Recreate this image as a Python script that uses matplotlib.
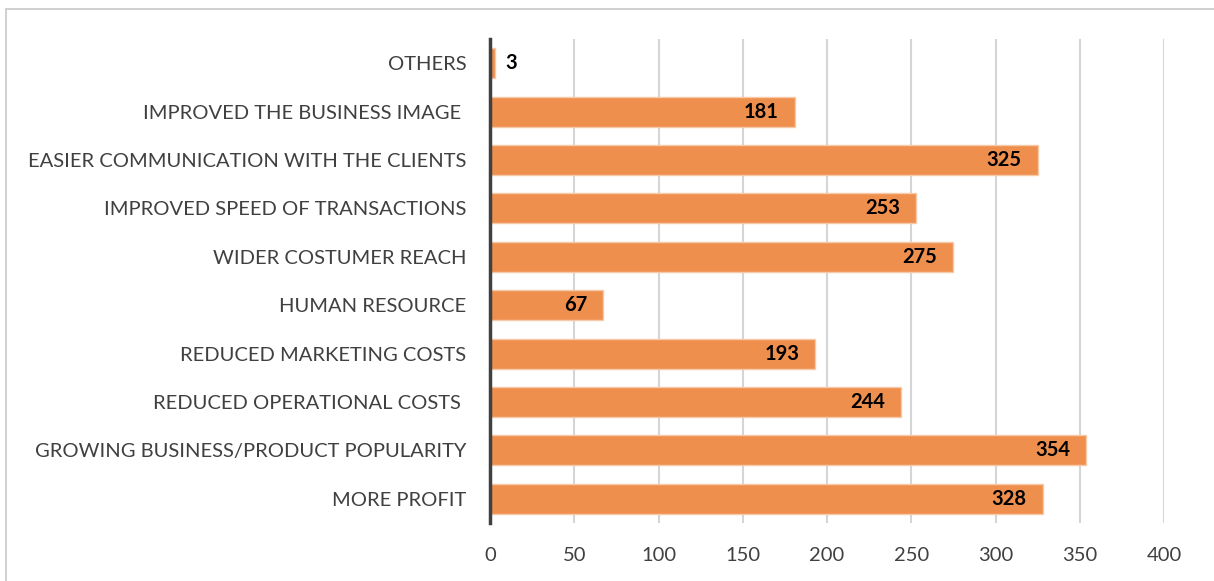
import matplotlib
matplotlib.use("Agg")
import matplotlib.pyplot as plt
from matplotlib.patches import Rectangle

categories = [
    "MORE PROFIT",
    "GROWING BUSINESS/PRODUCT POPULARITY",
    "REDUCED OPERATIONAL COSTS ",
    "REDUCED MARKETING COSTS",
    "HUMAN RESOURCE",
    "WIDER COSTUMER REACH",
    "IMPROVED SPEED OF TRANSACTIONS",
    "EASIER COMMUNICATION WITH THE CLIENTS",
    "IMPROVED THE BUSINESS IMAGE ",
    "OTHERS",
]
values = [328, 354, 244, 193, 67, 275, 253, 325, 181, 3]
xticks = [0, 50, 100, 150, 200, 250, 300, 350, 400]

plt.rcParams['font.family'] = ['Lato', 'DejaVu Sans']

fig = plt.figure(figsize=(12.14, 5.81), dpi=100)
ax = fig.add_axes([490/1214, 1-523/581, (1164-490)/1214, (523-39)/581])

# outer border
fig.patches.append(Rectangle((6/1214, -0.1), 1.2, 1.1 - 9/581, transform=fig.transFigure,
                             fill=False, edgecolor='#C8C8C8', linewidth=1.2, zorder=0))

y = list(range(len(categories)))
ax.barh(y, values, height=0.62, color='#EF8F4E', edgecolor='#F6C9A8', linewidth=1.0, zorder=2)

for yi, v in zip(y, values):
    if v < 20:
        ax.text(v + 6, yi, str(v), ha='left', va='center', fontsize=14.5,
                fontweight='bold', color='black', zorder=3)
    else:
        ax.text(v - 9.5, yi, str(v), ha='right', va='center', fontsize=14.5,
                fontweight='bold', color='black', zorder=3)

ax.set_xlim(0, 400)
ax.set_ylim(-0.5, len(categories) - 0.5)
ax.set_xticks(xticks)
ax.set_xticklabels([str(t) for t in xticks], fontsize=14.5, color='#404040')
ax.set_yticks(y)
ax.set_yticklabels(categories, fontsize=14.5, color='#404040')
ax.tick_params(axis='both', length=0)
ax.tick_params(axis='y', pad=17)
ax.tick_params(axis='x', pad=17)

ax.grid(axis='x', color='#D5D5D5', linewidth=1.5, zorder=0)
ax.set_axisbelow(True)
for s in ['top', 'right', 'bottom']:
    ax.spines[s].set_visible(False)
ax.spines['left'].set_color('#404040')
ax.spines['left'].set_linewidth(2.5)
ax.spines['left'].set_zorder(4)

fig.savefig("out.png", dpi=100)
